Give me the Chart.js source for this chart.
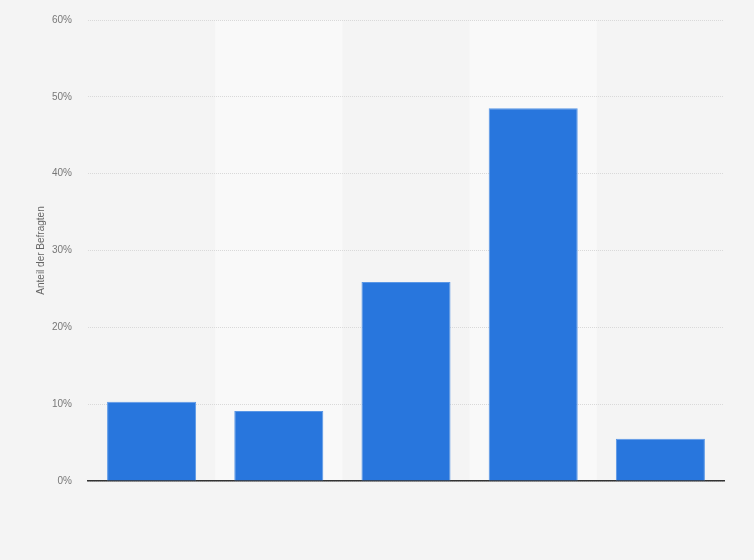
<!DOCTYPE html>
<html>
<head>
<meta charset="utf-8">
<script src="https://cdn.jsdelivr.net/npm/chart.js@4"></script>
<style>
  html, body { margin: 0; padding: 0; background: #f4f4f4; }
  #wrap { width: 754px; height: 560px; }
</style>
</head>
<body>
<div id="wrap"><canvas id="mycanvas" width="754" height="560"></canvas></div>
<script>
// chart data
var categories = ["1", "2", "3", "4", "5"];
var shares = [10.3, 9.1, 25.9, 48.5, 5.5];
var yTicks = [0, 10, 20, 30, 40, 50, 60];

// light bands behind every second category, plus page background
var bandPlugin = {
  id: 'bands',
  beforeDraw: function(chart) {
    var c = chart.ctx, x = chart.scales.x, area = chart.chartArea;
    c.save();
    c.fillStyle = '#f4f4f4';
    c.fillRect(0, 0, chart.width, chart.height);
    var step = x.getPixelForValue(1) - x.getPixelForValue(0);
    c.fillStyle = '#f9f9f9';
    for (var i = 1; i < categories.length; i += 2) {
      var cx = x.getPixelForValue(i);
      c.fillRect(cx - step / 2, area.top, step, area.bottom - area.top);
    }
    c.restore();
  }
};

var ctx = document.getElementById("mycanvas").getContext("2d");
new Chart(ctx, {
  type: 'bar',
  data: {
    labels: categories,
    datasets: [{
      data: shares,
      backgroundColor: '#2876dd',
      borderColor: '#5a97e6',
      borderWidth: 1,
      borderSkipped: 'bottom',
      categoryPercentage: 0.7,
      barPercentage: 1
    }]
  },
  options: {
    responsive: false,
    animation: false,
    layout: { padding: { top: 20, right: 30, bottom: 79, left: 0 } },
    plugins: { legend: { display: false }, tooltip: { enabled: false } },
    scales: {
      x: {
        grid: { display: false, drawTicks: false },
        border: { display: true, color: '#333333', width: 1.5 },
        ticks: { display: false }
      },
      y: {
        min: 0,
        max: 60,
        afterBuildTicks: function(scale) {
          scale.ticks = yTicks.map(function(v) { return { value: v }; });
        },
        afterFit: function(scale) {
          scale.width = 88;
          scale.paddingTop = 0;
          scale.paddingBottom = 0;
        },
        grid: { color: '#d9d9d9', borderDash: [1, 1], drawTicks: false },
        border: { display: false, dash: [1, 1] },
        ticks: {
          padding: 16,
          color: '#777777',
          font: { family: 'Liberation Sans, Arial, sans-serif', size: 10 },
          callback: function(v) { return v + '%'; }
        },
        title: {
          display: true,
          text: 'Anteil der Befragten',
          color: '#666666',
          padding: { top: 35, bottom: 0 },
          font: { family: 'Liberation Sans, Arial, sans-serif', size: 10 }
        }
      }
    }
  },
  plugins: [bandPlugin]
});
</script>
</body>
</html>
